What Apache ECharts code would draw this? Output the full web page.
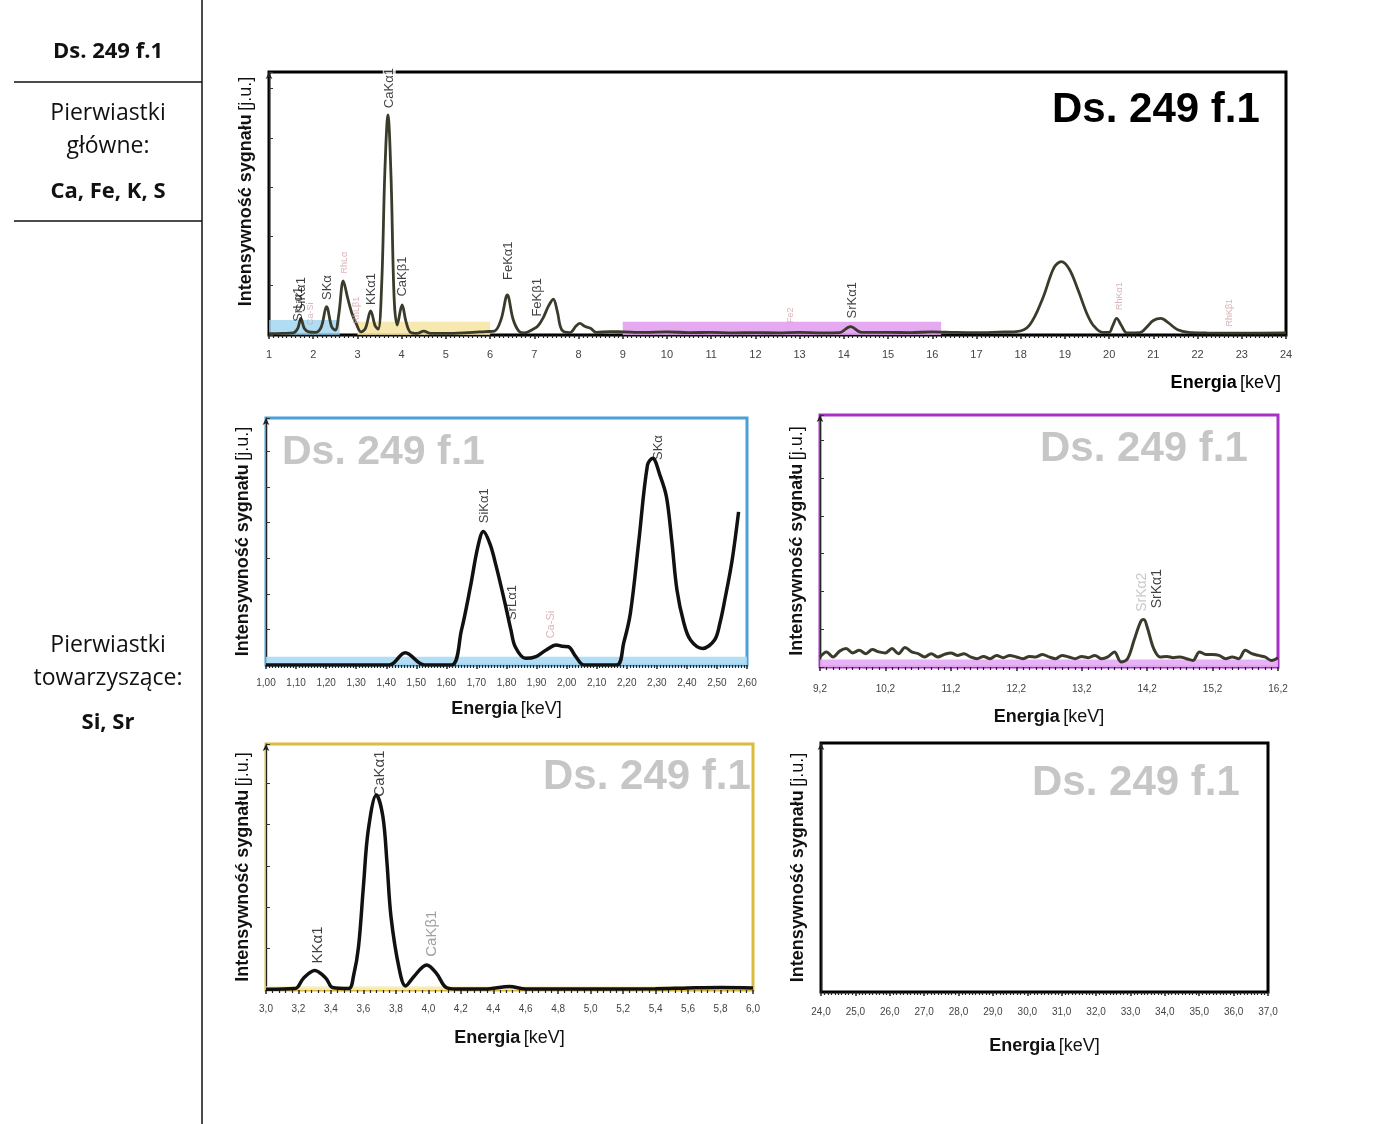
<!DOCTYPE html>
<html><head><meta charset="utf-8">
<script src="https://cdn.jsdelivr.net/npm/echarts/dist/echarts.min.js"></script>
<style>html,body{margin:0;padding:0;background:#fff}#c{width:1400px;height:1124px}</style>
</head><body><div id="c"></div>
<script>
// ---------------- DATA ----------------
// Overview spectrum 1–24 keV (energy, intensity a.u.)
const overviewSpectrum = [
 [1.0,0.5],[1.3,0.6],[1.55,0.8],[1.65,2.5],[1.72,6.3],[1.8,2.5],[1.9,1.2],[2.05,1.0],[2.18,3],[2.3,10.8],[2.42,3],[2.5,1.9],
 [2.58,8],[2.68,20.6],[2.78,14],[2.88,8],[2.98,4],[3.08,1.2],[3.18,2.5],[3.3,9.2],[3.4,3.5],[3.47,2.2],[3.55,20],[3.62,62],
 [3.69,83.7],[3.76,60],[3.83,14],[3.9,3.8],[4.01,11.4],[4.1,5],[4.2,1.0],[4.35,0.6],[4.5,1.5],[4.65,0.6],[5.0,0.6],[5.5,0.9],
 [5.9,1.3],[6.1,1.5],[6.25,6],[6.39,15.2],[6.52,6],[6.65,1.5],[6.78,0.8],[6.95,2.0],[7.08,3.4],[7.2,6.5],[7.32,11],[7.43,13.6],
 [7.52,9],[7.62,2],[7.8,0.9],[7.95,3.5],[8.03,4.4],[8.15,3.2],[8.27,2.6],[8.4,1.0],[8.7,1.3],[9.0,1.2],[9.5,1.0],[10.0,1.2],
 [10.5,0.9],[11,1.0],[11.5,0.8],[12,0.9],[12.5,0.8],[13,1.0],[13.5,0.8],[13.9,0.9],[14.15,3.2],[14.4,1.0],[15,1.0],[15.5,0.9],
 [16,1.2],[16.5,1.0],[17,0.9],[17.5,1.1],[17.9,1.3],[18.2,3.8],[18.5,14],[18.75,25.5],[18.92,27.9],[19.1,25],[19.3,17],[19.5,8],
 [19.65,3.5],[19.85,1.0],[20.0,1.0],[20.08,3.5],[20.17,6.3],[20.28,3.5],[20.4,0.8],[20.7,0.9],[20.85,3],[21.0,5.5],[21.17,6.3],
 [21.35,4.5],[21.55,2.0],[21.8,1.0],[22.2,0.8],[23,0.7],[24,0.8]
];
// Detail 1.00–2.60 keV (Si / S region)
const siSpectrum = [
 [1.00,0],[1.41,0],[1.463,5.0],[1.527,0],[1.617,0],[1.65,14],[1.68,31.7],[1.705,48],[1.723,54],[1.745,49],[1.766,39.8],
 [1.795,25],[1.815,14],[1.829,7.4],[1.863,2.7],[1.898,3.4],[1.932,6.1],[1.966,8.1],[1.985,7.6],[2.006,7.4],[2.03,3.5],[2.058,0],
 [2.166,0],[2.19,9],[2.212,20.9],[2.24,50],[2.269,81],[2.286,83.7],[2.31,77],[2.332,68.1],[2.35,50],[2.367,30.4],[2.39,17],
 [2.412,10.1],[2.452,6.7],[2.492,10.1],[2.51,17],[2.526,26.3],[2.55,42],[2.572,62]
];
// Detail 9.2–16.2 keV (Sr region)
const srSpectrum = [
 [9.2,4.0],[9.3,6.0],[9.4,4.0],[9.5,6.3],[9.6,7.3],[9.7,5.6],[9.8,6.6],[9.9,5.3],[10.0,6.9],[10.1,6.0],[10.2,5.6],[10.3,7.3],
 [10.4,5.3],[10.5,7.7],[10.6,6.0],[10.7,5.3],[10.8,4.0],[10.9,5.3],[11.0,4.0],[11.1,5.0],[11.2,5.6],[11.3,4.6],[11.4,5.3],
 [11.5,4.0],[11.6,3.3],[11.7,4.2],[11.8,3.3],[11.9,4.6],[12.0,3.7],[12.1,4.6],[12.2,4.0],[12.3,3.3],[12.4,4.2],[12.5,4.0],
 [12.6,5.0],[12.7,4.0],[12.8,3.3],[12.9,4.6],[13.0,4.0],[13.1,3.3],[13.2,4.2],[13.3,3.7],[13.4,4.6],[13.5,3.3],[13.6,4.0],
 [13.7,6.0],[13.8,2.0],[13.9,3.3],[14.0,10.6],[14.1,17.9],[14.15,18.8],[14.2,15.9],[14.3,7.3],[14.4,4.0],[14.5,4.2],[14.6,3.7],
 [14.7,4.0],[14.8,3.3],[14.9,2.6],[15.0,6.0],[15.1,5.0],[15.2,5.0],[15.3,4.6],[15.4,3.3],[15.5,4.0],[15.6,3.3],[15.7,6.6],
 [15.8,5.3],[15.9,4.6],[16.0,4.0],[16.1,2.6],[16.2,3.7]
];
// Detail 3.0–6.0 keV (K / Ca region)
const caSpectrum = [
 [3.0,0.3],[3.18,0.6],[3.23,4.7],[3.3,7.9],[3.37,4.7],[3.41,1.0],[3.51,0.6],[3.54,6],[3.57,17.6],[3.6,42],[3.63,65],[3.68,79.3],
 [3.72,70.5],[3.745,52],[3.77,29.8],[3.82,8.8],[3.86,1.6],[3.91,5.4],[3.99,10.2],[4.05,6.8],[4.11,1.0],[4.17,0.4],[4.35,0.4],
 [4.5,1.4],[4.6,0.4],[5.0,0.4],[5.4,0.5],[5.6,0.8],[5.8,1.0],[6.0,0.8]
];
// Peak labels: [name, energy, intensity at label foot]
const overviewLabels = [["SrLα1",1.66,5],["SiKα1",1.74,8.7],["SKα",2.31,13.3],["KKα1",3.32,11.4],["CaKα1",3.72,85.5],
 ["CaKβ1",4.02,14.6],["FeKα1",6.41,20.9],["FeKβ1",7.07,7.0],["SrKα1",14.2,6.3]];
const overviewRhLabels = [["Ca-Si",1.95,3.8],["RhLα",2.70,23.4],["RhLβ1",2.98,4.4],["Fe2",12.79,4.6],["RhKα1",20.23,9.5],["RhKβ1",22.72,3.2]];
const siLabels = [["SiKα1",1.726,57.4],["SrLα1",1.82,18.2],["SKα",2.304,83]];
const siFaintLabels = [["Ca-Si",1.949,10.8]];
const srLabels = [["SrKα1",14.35,23.3]];
const srFaintLabels = [["SrKα2",14.12,21.9]];
const caLabels = [["KKα1",3.32,10.8],["CaKα1",3.70,78.6]];
const caFaintLabels = [["CaKβ1",4.02,13.5]];
// Highlighted energy ranges in overview: [start, end, height]
const overviewBands = [[1.0,2.6,5.7],[3.0,6.0,5.0],[9.0,16.2,5.0]];
// Axis ranges [min, max, interval]
const axisRanges = [[1,24,1],[1.0,2.6,0.1],[9.2,16.2,1],[3.0,6.0,0.2],[24,37,1]];
const sampleName = "Ds. 249 f.1";
const mainElements = "Ca, Fe, K, S";
const traceElements = "Si, Sr";

// ---------------- CHART ----------------
const FONT = "'Liberation Sans', Arial, sans-serif";
const SIDE = "'Open Sans', 'Noto Sans', sans-serif";
const chart = echarts.init(document.getElementById('c'), null, {renderer:'canvas'});

const frames = ['#000','#4aa0d5','#a832c6','#dcbc3c','#000'];
const grids = [
 {left:269, top:72, width:1017, height:263},
 {left:266, top:418, width:481, height:247},
 {left:820, top:415, width:458, height:252},
 {left:266, top:744, width:487, height:246},
 {left:821, top:743, width:447, height:249}
].map((g,i)=>Object.assign(g,{show:true, borderColor:frames[i], borderWidth:3, backgroundColor:'transparent'}));

const decimals = [0,2,1,1,1];
const minorSplit = [10,10,10,5,10];
const labelMargin = [14,13,17,14,15];
const nameGaps = [0,35,41,39,45];
const yIntervals = [18.75,14.4,15,16.8,100];
const yNamePad = [[0,0,0,24],[0,0,0,0],[0,0,0,0],[0,0,0,0],[0,0,0,0]];

const richX = {b:{fontWeight:'bold',fontSize:18,fontFamily:FONT,color:'#111'}, n:{fontSize:18,fontFamily:FONT,color:'#111'}};
const xAxes = axisRanges.map((r,i)=>({
  type:'value', gridIndex:i, min:r[0], max:r[1], interval:r[2],
  axisLine:{show:false},
  axisTick:{show:true, inside:false, length:4, lineStyle:{color:'#222',width:1.5}},
  minorTick:{show:true, splitNumber:minorSplit[i], length:3, lineStyle:{color:'#222',width:1.2}},
  splitLine:{show:false}, minorSplitLine:{show:false},
  axisLabel:{fontSize: i===0?11:10, color:'#444', fontFamily:FONT, margin:labelMargin[i],
    formatter:v=>{ const s=(Math.round(v*1000)/1000).toFixed(decimals[i]); return s.replace('.',','); }},
  name: i===0 ? '' : '{b|Energia} {n|[keV]}', nameLocation:'middle', nameGap:nameGaps[i],
  nameTextStyle:{rich:richX}
}));
const yAxes = axisRanges.map((r,i)=>({
  type:'value', gridIndex:i, min:0, max:100, interval:yIntervals[i],
  axisLine:{show:true, symbol:['none','arrow'], symbolSize:[5,7], lineStyle:{color:'#222',width:1}},
  axisTick:{show:i<4, inside:true, length:4, lineStyle:{color:'#333'}},
  axisLabel:{show:false}, splitLine:{show:false},
  name:'{b|Intensywność sygnału} {n|[j.u.]}', nameLocation:'middle', nameRotate:90, nameGap:14,
  nameTextStyle:{rich:richX, padding:yNamePad[i]}
}));

function lineSeries(idx, data, color, width){
  return {type:'line', xAxisIndex:idx, yAxisIndex:idx, data:data, showSymbol:false, smooth:0.35,
    lineStyle:{color:color, width:width}, z:3, clip:true, silent:true};
}
function labelSeries(idx, list, color, size){
  return {type:'scatter', xAxisIndex:idx, yAxisIndex:idx, symbolSize:1, itemStyle:{color:'rgba(0,0,0,0)'}, z:5, silent:true,
    data:list.map(l=>({name:l[0], value:[l[1],l[2]]})),
    label:{show:true, position:'inside', rotate:90, align:'left', verticalAlign:'middle',
      formatter:p=>p.name, color:color, fontSize:size, fontFamily:FONT}};
}
function bandSeries(idx, bands, colors){
  return {type:'line', xAxisIndex:idx, yAxisIndex:idx, data:[], z:1, silent:true,
    markArea:{silent:true, data:bands.map((b,k)=>[{coord:[b[0],0], itemStyle:{color:colors[k]}},{coord:[b[1],b[2]]}])}};
}

const series = [
  bandSeries(0, overviewBands, ['rgba(150,210,240,0.75)','rgba(245,228,160,0.85)','rgba(225,160,240,0.9)']),
  bandSeries(1, [[1.0,2.6,3.3]], ['rgba(170,220,245,0.9)']),
  bandSeries(2, [[9.2,16.2,3.0]], ['rgba(230,170,245,0.9)']),
  bandSeries(3, [[3.0,6.0,1.5]], ['rgba(245,235,185,0.9)']),
  lineSeries(0, overviewSpectrum, '#3b3b2c', 2.8),
  lineSeries(1, siSpectrum, '#111', 3.5),
  lineSeries(2, srSpectrum, '#3b3b2c', 3),
  lineSeries(3, caSpectrum, '#111', 3.5),
  labelSeries(0, overviewLabels, '#111', 13),
  labelSeries(0, overviewRhLabels, '#d3a0a8', 9),
  labelSeries(1, siLabels, '#111', 13),
  labelSeries(1, siFaintLabels, '#d3a0a8', 11),
  labelSeries(2, srLabels, '#111', 14),
  labelSeries(2, srFaintLabels, '#bbb', 14),
  labelSeries(3, caLabels, '#111', 15),
  labelSeries(3, caFaintLabels, '#888', 15)
];
// white gap behind CaKα1 crossing top frame
series[8].data[4].label = {backgroundColor:'#fff', padding:[0,2]};

const wm = (x,y,color,size)=>({type:'text', x:x, y:y, z:10, silent:true,
  style:{text:sampleName, font:`bold ${size}px ${FONT}`, fill:color, align:'left', verticalAlign:'middle'}});
const sideText = (y,text,bold,size)=>({type:'text', x:108, y:y, z:10, silent:true,
  style:{text:text, font:`${bold?'bold ':''}${size}px ${SIDE}`, fill:'#111', align:'center', verticalAlign:'middle'}});
const hline = (x1,x2,y)=>({type:'line', shape:{x1:x1,y1:y,x2:x2,y2:y}, style:{stroke:'#111',lineWidth:1.5}, silent:true});

const graphic = [
  {type:'line', shape:{x1:202,y1:0,x2:202,y2:1124}, style:{stroke:'#111',lineWidth:1.5}, silent:true},
  hline(14,202,82), hline(14,202,221),
  sideText(52, sampleName, true, 22),
  sideText(113, 'Pierwiastki', false, 23),
  sideText(146, 'główne:', false, 23),
  sideText(192, mainElements, true, 22),
  sideText(645, 'Pierwiastki', false, 23),
  sideText(678, 'towarzyszące:', false, 23),
  sideText(723, traceElements, true, 22),
  wm(1052,110,'#000',42),
  wm(282,453,'#c6c6c6',41),
  wm(1040,449,'#c6c6c6',42),
  wm(543,777,'#c6c6c6',42),
  wm(1032,783,'#c6c6c6',42),
  {type:'text', x:1281, y:383, z:10, silent:true,
   style:{text:'{b|Energia} {n|[keV]}', rich:richX, align:'right', verticalAlign:'middle'}}
];

chart.setOption({
  animation:false, backgroundColor:'#fff',
  grid:grids, xAxis:xAxes, yAxis:yAxes, series:series, graphic:graphic
});
</script></body></html>
